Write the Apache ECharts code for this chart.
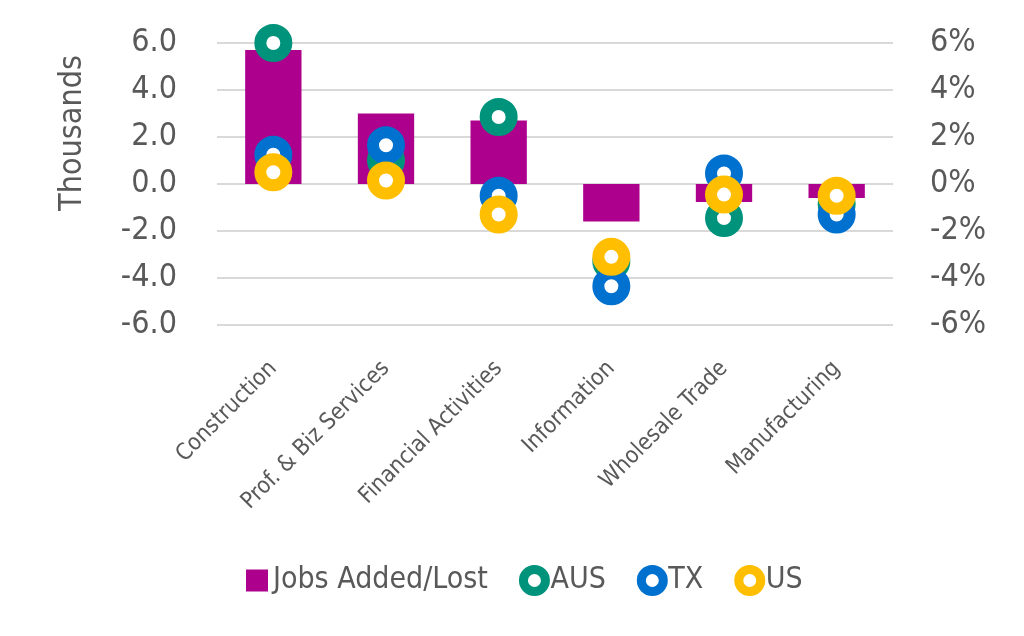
<!DOCTYPE html>
<html>
<head>
<meta charset="utf-8">
<script src="https://cdn.jsdelivr.net/npm/echarts@6/dist/echarts.min.js"></script>
<style>
html,body{margin:0;padding:0;background:#fff;}
#chart{width:1024px;height:636px;}
</style>
</head>
<body>
<div id="chart"></div>
<script>
var categories = ['Construction', 'Prof. & Biz Services', 'Financial Activities', 'Information', 'Wholesale Trade', 'Manufacturing'];
var jobsAddedLost = [5.7, 3.0, 2.7, -1.6, -0.77, -0.6];
var ausPct = [6.0, 1.0, 2.85, -3.3, -1.45, -0.85];
var txPct = [1.25, 1.65, -0.5, -4.35, 0.45, -1.3];
var usPct = [0.5, 0.15, -1.3, -3.1, -0.45, -0.5];
var leftTicks = [-6, 6, 2];
var rightTicks = [-6, 6, 2];

var FONT = "'DejaVu Sans Condensed', 'Liberation Sans Narrow', sans-serif";
var TXT = '#595959';
var COLORS = {bar: '#AD008C', aus: '#00937B', tx: '#0071CE', us: '#FFBF00'};

function ring(c) { return {color: '#ffffff', borderColor: c, borderWidth: 12, opacity: 1}; }

var chart = echarts.init(document.getElementById('chart'));
chart.setOption({
  animation: false,
  textStyle: {fontFamily: FONT},
  grid: {left: 217, right: 131, top: 43, bottom: 311},
  legend: {
    left: 241, top: 560,
    itemGap: 31, itemWidth: 22, itemHeight: 22,
    textStyle: {fontFamily: FONT, fontSize: 30, color: TXT},
    data: [
      {name: 'Jobs Added/Lost', icon: 'rect', itemStyle: {color: COLORS.bar}},
      {name: 'AUS', icon: 'circle', itemStyle: {color: '#fff', borderColor: COLORS.aus, borderWidth: 9, opacity: 1}},
      {name: 'TX', icon: 'circle', itemStyle: {color: '#fff', borderColor: COLORS.tx, borderWidth: 9, opacity: 1}},
      {name: 'US', icon: 'circle', itemStyle: {color: '#fff', borderColor: COLORS.us, borderWidth: 9, opacity: 1}}
    ]
  },
  xAxis: {
    type: 'category', data: categories,
    axisLine: {show: false}, axisTick: {show: false},
    axisLabel: {rotate: 45, margin: 40, fontSize: 23, color: TXT, fontFamily: FONT, interval: 0}
  },
  yAxis: [{
    type: 'value', min: leftTicks[0], max: leftTicks[1], interval: leftTicks[2],
    name: 'Thousands', nameLocation: 'middle', nameGap: 128,
    nameTextStyle: {fontSize: 32, color: TXT, fontFamily: FONT, padding: [0, 0, 0, 102]},
    axisLine: {show: false}, axisTick: {show: false},
    axisLabel: {margin: 40, fontSize: 32, color: TXT, fontFamily: FONT, formatter: function (v) { return v.toFixed(1); }},
    splitLine: {lineStyle: {color: '#D9D9D9', width: 2}}
  }, {
    type: 'value', min: rightTicks[0], max: rightTicks[1], interval: rightTicks[2],
    axisLine: {show: false}, axisTick: {show: false},
    axisLabel: {margin: 37, fontSize: 32, color: TXT, fontFamily: FONT, formatter: function (v) { return v + '%'; }},
    splitLine: {show: false}
  }],
  series: [
    {name: 'Jobs Added/Lost', type: 'bar', data: jobsAddedLost, barWidth: '50%', itemStyle: {color: COLORS.bar}, yAxisIndex: 0},
    {name: 'AUS', type: 'scatter', data: ausPct, yAxisIndex: 1, symbol: 'circle', symbolSize: 26, itemStyle: ring(COLORS.aus), emphasis: {disabled: true}},
    {name: 'TX', type: 'scatter', data: txPct, yAxisIndex: 1, symbol: 'circle', symbolSize: 26, itemStyle: ring(COLORS.tx), emphasis: {disabled: true}},
    {name: 'US', type: 'scatter', data: usPct, yAxisIndex: 1, symbol: 'circle', symbolSize: 26, itemStyle: ring(COLORS.us), emphasis: {disabled: true}}
  ]
});
</script>
</body>
</html>
